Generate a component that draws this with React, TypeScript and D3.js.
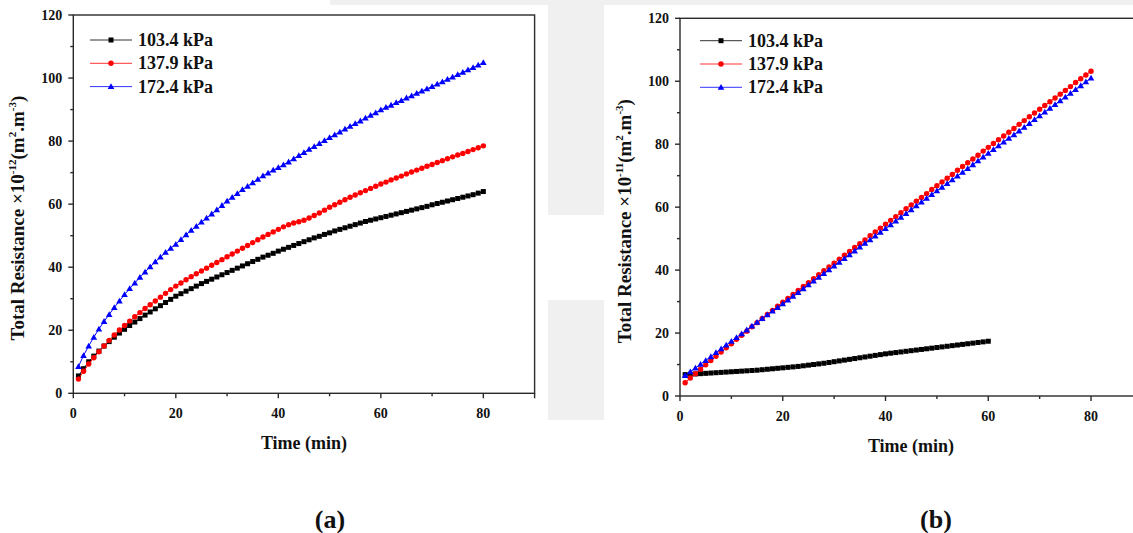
import React from "react";
import * as d3 from "d3";

// ---------- Data ----------
const seriesNames = ["103.4 kPa", "137.9 kPa", "172.4 kPa"];
const seriesColors = ["#000000", "#ff0000", "#0000ff"];
const xTicks = [0, 20, 40, 60, 80];
const yTicks = [0, 20, 40, 60, 80, 100, 120];

// Panel (a): minute 1..80
const a103 = [
  5.5, 7.8, 10.0, 11.8, 13.4, 15.0, 16.4, 17.8, 19.1, 20.3,
  21.5, 22.6, 23.7, 24.8, 25.8, 26.8, 27.8, 28.8, 29.8, 30.8,
  31.6, 32.4, 33.2, 34.0, 34.8, 35.5, 36.2, 36.9, 37.6, 38.3,
  39.0, 39.7, 40.4, 41.1, 41.8, 42.5, 43.2, 43.8, 44.4, 45.1,
  45.7, 46.3, 46.9, 47.5, 48.1, 48.7, 49.3, 49.8, 50.4, 50.9,
  51.5, 52.0, 52.5, 53.0, 53.5, 54.0, 54.5, 54.9, 55.3, 55.7,
  56.1, 56.5, 56.9, 57.3, 57.7, 58.1, 58.5, 58.9, 59.3, 59.8,
  60.2, 60.6, 61.0, 61.4, 61.8, 62.2, 62.6, 63.0, 63.5, 64.0,
];
const a137 = [
  4.5, 7.0, 9.3, 11.3, 13.2, 15.0, 16.8, 18.5, 20.1, 21.5,
  22.9, 24.3, 25.6, 26.9, 28.1, 29.3, 30.5, 31.7, 32.9, 34.0,
  35.0, 36.0, 37.0, 37.9, 38.8, 39.7, 40.6, 41.5, 42.4, 43.3,
  44.2, 45.1, 46.0, 46.9, 47.8, 48.7, 49.6, 50.4, 51.2, 52.0,
  52.8, 53.5, 54.0, 54.4, 54.9, 55.6, 56.4, 57.2, 58.1, 59.0,
  59.8, 60.6, 61.4, 62.2, 62.9, 63.6, 64.3, 65.0, 65.7, 66.4,
  67.0, 67.7, 68.3, 68.9, 69.6, 70.2, 70.8, 71.4, 72.0, 72.6,
  73.2, 73.8, 74.4, 75.0, 75.6, 76.1, 76.7, 77.3, 77.9, 78.5,
];
const a172 = [
  8.5, 12.0, 15.0, 17.8, 20.4, 22.8, 25.0, 27.2, 29.3, 31.3,
  33.2, 35.0, 36.8, 38.5, 40.1, 41.7, 43.2, 44.7, 46.0, 47.3,
  48.8, 50.3, 51.7, 53.0, 54.3, 55.6, 56.9, 58.2, 59.6, 61.0,
  62.2, 63.4, 64.6, 65.7, 66.8, 67.9, 69.0, 69.9, 70.8, 71.6,
  72.5, 73.4, 74.4, 75.4, 76.4, 77.4, 78.3, 79.2, 80.2, 81.1,
  82.0, 82.9, 83.8, 84.7, 85.6, 86.4, 87.3, 88.2, 89.0, 89.9,
  90.7, 91.4, 92.2, 92.9, 93.7, 94.4, 95.2, 95.9, 96.6, 97.3,
  98.1, 98.8, 99.6, 100.3, 101.1, 101.8, 102.6, 103.3, 104.1, 104.9,
];

// Panel (b): minute 1..60 / 1..80
const b103 = [
  6.8, 6.9, 7.0, 7.1, 7.2, 7.3, 7.4, 7.5, 7.6, 7.7,
  7.8, 7.9, 8.0, 8.1, 8.2, 8.35, 8.5, 8.65, 8.8, 8.95,
  9.1, 9.25, 9.4, 9.6, 9.8, 10.0, 10.2, 10.4, 10.65, 10.9,
  11.15, 11.4, 11.65, 11.9, 12.15, 12.4, 12.65, 12.9, 13.15, 13.4,
  13.6, 13.8, 14.0, 14.2, 14.4, 14.6, 14.8, 15.0, 15.2, 15.4,
  15.6, 15.8, 16.0, 16.2, 16.4, 16.6, 16.8, 17.0, 17.2, 17.4,
];
const b137 = [
  4.2, 5.7, 7.1, 8.5, 9.9, 11.3, 12.6, 14.0, 15.3, 16.6,
  18.0, 19.3, 20.6, 22.0, 23.3, 24.6, 25.9, 27.2, 28.5, 29.8,
  31.0, 32.3, 33.5, 34.8, 36.0, 37.3, 38.5, 39.8, 41.0, 42.2,
  43.5, 44.7, 45.9, 47.2, 48.4, 49.6, 50.9, 52.1, 53.3, 54.6,
  55.8, 57.0, 58.2, 59.5, 60.7, 61.9, 63.1, 64.3, 65.6, 66.8,
  68.0, 69.2, 70.4, 71.7, 72.9, 74.1, 75.3, 76.5, 77.8, 79.0,
  80.2, 81.4, 82.6, 83.8, 85.0, 86.3, 87.5, 88.7, 89.9, 91.1,
  92.3, 93.5, 94.7, 95.9, 97.1, 98.3, 99.6, 100.8, 102.0, 103.2,
];
const b172 = [
  6.5, 7.7, 8.9, 10.1, 11.3, 12.5, 13.8, 15.0, 16.2, 17.4,
  18.6, 19.8, 21.0, 22.2, 23.4, 24.6, 25.8, 27.0, 28.1, 29.3,
  30.5, 31.7, 32.9, 34.1, 35.3, 36.5, 37.7, 38.9, 40.1, 41.3,
  42.5, 43.7, 44.9, 46.1, 47.3, 48.5, 49.6, 50.8, 52.0, 53.2,
  54.4, 55.6, 56.8, 58.0, 59.2, 60.4, 61.6, 62.8, 64.0, 65.2,
  66.3, 67.5, 68.7, 69.9, 71.1, 72.3, 73.5, 74.7, 75.9, 77.1,
  78.3, 79.5, 80.7, 81.9, 83.0, 84.2, 85.4, 86.6, 87.8, 89.0,
  90.2, 91.4, 92.6, 93.8, 95.0, 96.2, 97.4, 98.6, 99.8, 101.0,
];

const FONT = "'Liberation Serif', 'Times New Roman', serif";
const AXIS = "#2a2a2a";

type PanelProps = {
  x0: number; x1: number; y0: number; y1: number;
  series: number[][];
  exponent: string;
  legendX: number; legendY: number;
  titleX: number; titleY: number; yTitleX: number;
};

function Marker({ kind, x, y, color }: { kind: number; x: number; y: number; color: string }) {
  if (kind === 0) return <rect x={x - 2.5} y={y - 2.5} width={5} height={5} fill={color} />;
  if (kind === 1) return <circle cx={x} cy={y} r={2.7} fill={color} />;
  const s = 3.3;
  return <path d={`M${x},${y - s}L${x + s},${y + s * 0.75}L${x - s},${y + s * 0.75}Z`} fill={color} />;
}

function Panel(p: PanelProps) {
  const xs = d3.scaleLinear().domain([0, 90]).range([p.x0, p.x1]);
  const ys = d3.scaleLinear().domain([0, 120]).range([p.y0, p.y1]);
  const line = d3.line<number>().x((_, i) => xs(i + 1)).y((d) => ys(d));
  const minorX = d3.range(10, 90, 20);
  const minorY = d3.range(10, 120, 20);
  const yMid = (p.y0 + p.y1) / 2 + 14;
  return (
    <g>
      <rect x={p.x0} y={p.y1} width={p.x1 - p.x0} height={p.y0 - p.y1} fill="none" stroke={AXIS} strokeWidth={1.4} />
      {xTicks.map((t) => (
        <g key={"xt" + t}>
          <line x1={xs(t)} x2={xs(t)} y1={p.y0} y2={p.y0 + 5} stroke={AXIS} strokeWidth={1.4} />
          <text x={xs(t)} y={p.y0 + 25} textAnchor="middle" fontFamily={FONT} fontWeight="bold" fontSize={14} fill="#111">{t}</text>
        </g>
      ))}
      <line x1={xs(90)} x2={xs(90)} y1={p.y0} y2={p.y0 + 5} stroke={AXIS} strokeWidth={1.4} />
      {minorX.map((t) => (
        <line key={"mx" + t} x1={xs(t)} x2={xs(t)} y1={p.y0} y2={p.y0 + 3} stroke={AXIS} strokeWidth={1.4} />
      ))}
      {yTicks.map((t) => (
        <g key={"yt" + t}>
          <line x1={p.x0 - 5} x2={p.x0} y1={ys(t)} y2={ys(t)} stroke={AXIS} strokeWidth={1.4} />
          <text x={p.x0 - 11} y={ys(t) + 5} textAnchor="end" fontFamily={FONT} fontWeight="bold" fontSize={14} fill="#111">{t}</text>
        </g>
      ))}
      {minorY.map((t) => (
        <line key={"my" + t} x1={p.x0 - 3} x2={p.x0} y1={ys(t)} y2={ys(t)} stroke={AXIS} strokeWidth={1.4} />
      ))}
      {p.series.map((vals, k) => (
        <g key={"s" + k}>
          <path d={line(vals) || ""} fill="none" stroke={seriesColors[k]} strokeWidth={1} />
          {vals.map((v, i) => (
            <Marker key={i} kind={k} x={xs(i + 1)} y={ys(v)} color={seriesColors[k]} />
          ))}
        </g>
      ))}
      {seriesNames.map((n, k) => {
        const ly = p.legendY + k * 23.3;
        return (
          <g key={"lg" + k}>
            <line x1={p.legendX} x2={p.legendX + 42} y1={ly} y2={ly} stroke={seriesColors[k]} strokeWidth={1} opacity={0.8} />
            <Marker kind={k} x={p.legendX + 21} y={ly} color={seriesColors[k]} />
            <text x={p.legendX + 48} y={ly + 6} fontFamily={FONT} fontWeight="bold" fontSize={18} fill="#111">{n}</text>
          </g>
        );
      })}
      <text x={p.titleX} y={p.titleY} textAnchor="middle" fontFamily={FONT} fontWeight="bold" fontSize={18} fill="#111">Time (min)</text>
      <text transform={`translate(${p.yTitleX},${yMid}) rotate(-90)`} textAnchor="middle" fontFamily={FONT} fontWeight="bold" fontSize={19} fill="#111">
        Total Resistance ×10<tspan dy={-8} fontSize={11}>{p.exponent}</tspan><tspan dy={8}>(m</tspan><tspan dy={-8} fontSize={11}>2</tspan><tspan dy={8}>.m</tspan><tspan dy={-8} fontSize={11}>-3</tspan><tspan dy={8}>)</tspan>
      </text>
    </g>
  );
}

export default function App() {
  return (
    <svg width={1133} height={533} style={{ position: "absolute", left: 0, top: 0, background: "#fff" }}>
      <rect x={0} y={0} width={1133} height={533} fill="#fff" />
      {/* faint watermark fragments */}
      <rect x={330} y={0} width={803} height={5} fill="#f0f0f0" />
      <rect x={548} y={0} width={56} height={215} fill="#f0f0f0" />
      <rect x={548} y={300} width={56} height={120} fill="#f0f0f0" />
      <rect x={604} y={5} width={529} height={455} fill="#fff" />
      <Panel x0={73.3} x1={534.6} y0={393.3} y1={15} series={[a103, a137, a172]} exponent="-12"
        legendX={90} legendY={40} titleX={304} titleY={449} yTitleX={24} />
      <Panel x0={680} x1={1142.4} y0={396} y1={18.3} series={[b103, b137, b172]} exponent="-11"
        legendX={700} legendY={40.7} titleX={911} titleY={452} yTitleX={631} />
      <text x={330} y={528} textAnchor="middle" fontFamily={FONT} fontWeight="bold" fontSize={26} fill="#111">(a)</text>
      <text x={936} y={528} textAnchor="middle" fontFamily={FONT} fontWeight="bold" fontSize={26} fill="#111">(b)</text>
    </svg>
  );
}
